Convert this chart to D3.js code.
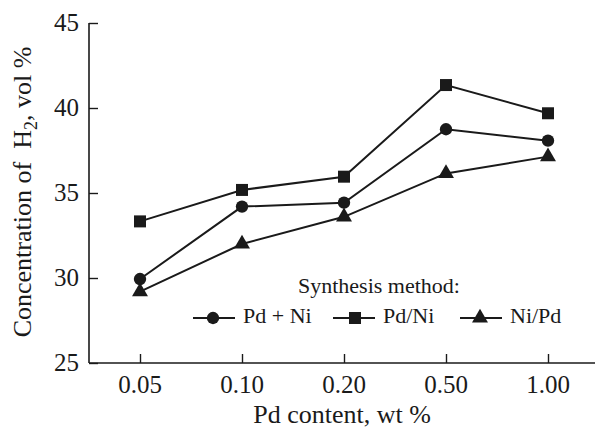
<!DOCTYPE html>
<html><head><meta charset="utf-8">
<script src="https://cdn.jsdelivr.net/npm/d3@7"></script>
<style>
html,body{margin:0;padding:0;background:#fff;}
svg text{font-family:"Liberation Serif","Times New Roman",serif;fill:#1a1a1a;}
</style></head>
<body><svg id="c" width="595" height="430"></svg>
<script>
const categories = ["0.05", "0.10", "0.20", "0.50", "1.00"];
const pdNi = [29.94, 34.2, 34.43, 38.75, 38.08];      // Pd + Ni (circle)
const pdSlashNi = [33.33, 35.18, 35.96, 41.35, 39.69]; // Pd/Ni (square)
const niSlashPd = [29.2, 32.0, 33.6, 36.15, 37.14];    // Ni/Pd (triangle)
const yTicks = [25, 30, 35, 40, 45];
const seriesNames = ["Pd + Ni", "Pd/Ni", "Ni/Pd"];

const series = [
  {name: seriesNames[0], values: pdNi, sym: d3.symbolCircle, size: 120},
  {name: seriesNames[1], values: pdSlashNi, sym: d3.symbolSquare, size: 144},
  {name: seriesNames[2], values: niSlashPd, sym: d3.symbolTriangle, size: 110}
];

const svg = d3.select("#c");
const ink = "#1a1a1a";
const x = d3.scalePoint().domain(categories).range([140, 548]);
const y = d3.scaleLinear().domain([25, 45]).range([363, 23]);

// axes
const yAx = svg.append("g").attr("transform", "translate(89,0)")
  .call(d3.axisRight(y).tickValues(yTicks).tickSize(9).tickFormat(""));
yAx.select(".domain").attr("d", "M0,23V363").attr("stroke", ink).attr("stroke-width", 1.6);
yAx.selectAll(".tick line").attr("stroke", ink).attr("stroke-width", 1.4);

const xAx = svg.append("g").attr("transform", "translate(0,363)")
  .call(d3.axisTop(x).tickSize(9).tickFormat(""));
xAx.select(".domain").attr("d", "M89,0H595").attr("stroke", ink).attr("stroke-width", 1.6);
xAx.selectAll(".tick line").attr("stroke", ink).attr("stroke-width", 1.4);

// tick labels
svg.append("g").selectAll("text").data(yTicks).join("text")
  .attr("x", 79).attr("y", d => y(d)).attr("dy", "0.33em")
  .attr("text-anchor", "end").attr("font-size", 25).text(d => d);
svg.append("g").selectAll("text").data(categories).join("text")
  .attr("x", d => x(d)).attr("y", 393)
  .attr("text-anchor", "middle").attr("font-size", 25).text(d => d);

// axis titles
svg.append("text").attr("x", 342).attr("y", 423).attr("text-anchor", "middle")
  .attr("font-size", 26).text("Pd content, wt %");
const yt = svg.append("text").attr("transform", "translate(31,192) rotate(-90)")
  .attr("text-anchor", "middle").attr("font-size", 26);
yt.append("tspan").text("Concentration of\u00A0 H");
yt.append("tspan").attr("font-size", 18).attr("dy", 6).text("2");
yt.append("tspan").attr("dy", -6).text(", vol %");

// lines and markers
const line = d3.line().x((d, i) => x(categories[i])).y(d => y(d));
series.forEach(s => {
  svg.append("path").attr("d", line(s.values)).attr("fill", "none")
    .attr("stroke", ink).attr("stroke-width", 2);
  svg.append("g").selectAll("path").data(s.values).join("path")
    .attr("transform", (d, i) => `translate(${x(categories[i])},${y(d)})`)
    .attr("d", d3.symbol().type(s.sym).size(s.size)()).attr("fill", ink);
});

// legend
svg.append("text").attr("x", 298).attr("y", 293).attr("font-size", 22).text("Synthesis method:");
const legX = [193, 333, 460];
series.forEach((s, i) => {
  const g = svg.append("g").attr("transform", `translate(${legX[i]},318)`);
  g.append("line").attr("x1", 0).attr("x2", 42).attr("stroke", ink).attr("stroke-width", 2);
  g.append("path").attr("transform", `translate(${i === 1 ? 22 : 20},0)`)
    .attr("d", d3.symbol().type(s.sym).size(s.size)()).attr("fill", ink);
  g.append("text").attr("x", 50).attr("y", 5).attr("font-size", 22).text(s.name);
});
</script></body></html>
